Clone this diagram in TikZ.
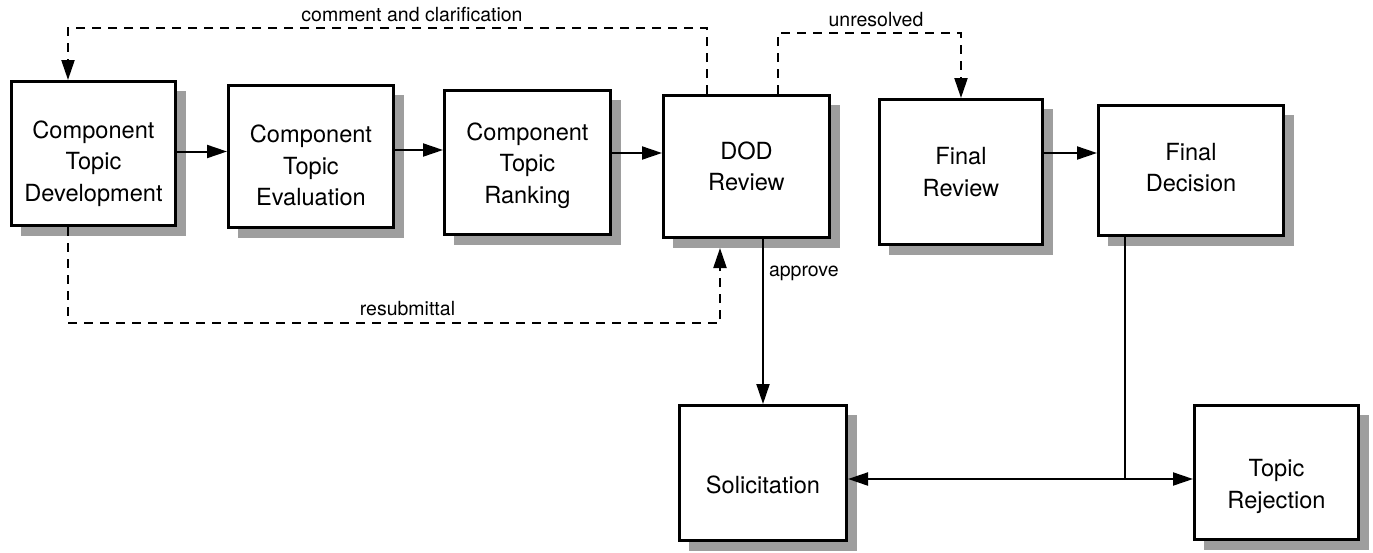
\documentclass[tikz,border=0pt]{standalone}
\usepackage{fontspec}
\setmainfont{TeX Gyre Heros}
\usetikzlibrary{arrows.meta,shadows,calc}
\begin{document}
\begin{tikzpicture}[x=1pt,y=-1pt,
  box/.style={draw, line width=2.6pt, fill=white, inner sep=0pt,
    drop shadow={shadow xshift=10pt, shadow yshift=-10pt, fill=black!38, draw=none, opacity=1}},
  txt/.style={align=center, inner sep=0pt, font=\fontsize{23.6}{31.5}\selectfont},
  lbl/.style={inner sep=0pt, font=\fontsize{19.5}{23}\selectfont},
  tip/.tip={Triangle[length=20pt,width=13pt]},
  conn/.style={line width=2pt, -tip},
  dashconn/.style={line width=2.2pt, -tip, dash pattern=on 9pt off 7pt},
  line/.style={line width=2pt}]
\useasboundingbox (0,0) rectangle (1373,552);

% boxes
\node[box, minimum width=164.4pt, minimum height=144.4pt,
  label={[txt,yshift=-10pt]center:Component\\Topic\\Development}] (ctd) at (93.5,153.5) {};
\node[box, minimum width=165.4pt, minimum height=142.4pt,
  label={[txt,yshift=-9pt]center:Component\\Topic\\Evaluation}] (cte) at (311,156.5) {};
\node[box, minimum width=166.4pt, minimum height=144.4pt,
  label={[txt,yshift=-3pt]center:Component\\Topic\\Ranking}] (ctr) at (527.5,162.5) {};
\node[box, minimum width=166.4pt, minimum height=142.4pt,
  label={[txt]center:DOD\\Review}] (dod) at (746.5,166.5) {};
\node[box, minimum width=163.4pt, minimum height=145.4pt,
  label={[txt]center:Final\\Review}] (fr) at (961,172) {};
\node[box, minimum width=185.4pt, minimum height=130.4pt,
  label={[txt,yshift=3pt]center:Final\\Decision}] (fd) at (1191,170.5) {};
\node[box, minimum width=167.4pt, minimum height=135.4pt,
  label={[txt,yshift=-12pt]center:Solicitation}] (sol) at (763,473) {};
\node[box, minimum width=164.4pt, minimum height=134.4pt,
  label={[txt,yshift=-14pt]center:Topic\\Rejection}] (rej) at (1276.5,472.5) {};

% horizontal flow
\coordinate (a1) at ($(ctd.east)+(0,-2)$);
\draw[conn] (a1) -- (a1 -| cte.west);
\coordinate (a2) at ($(cte.east)+(0,-6.5)$);
\draw[conn] (a2) -- (a2 -| ctr.west);
\coordinate (a3) at ($(ctr.east)+(0,-9.5)$);
\draw[conn] (a3) -- (a3 -| dod.west);
\coordinate (a4) at ($(fr.east)+(0,-19)$);
\draw[conn] (a4) -- (a4 -| fd.west);

% comment and clarification
\coordinate (c1) at ($(dod.north west)+(45,0)$);
\coordinate (c2) at ($(ctd.north west)+(58,0)$);
\draw[dashconn] (c1) -- ++(0,-66) -| (c2);
\node[lbl, anchor=base] (lcc) at (412,21) {comment and clarification};

% unresolved
\coordinate (u1) at ($(dod.north west)+(116,0)$);
\draw[dashconn] (u1) -- ++(0,-61) -| (fr.north);
\node[lbl, anchor=base] (lun) at (876,26) {unresolved};

% resubmittal
\coordinate (r1) at ($(ctd.south west)+(58,0)$);
\coordinate (r2) at ($(dod.south west)+(58,9)$);
\draw[dashconn] (r1) -- ++(0,96) -| (r2);
\node[lbl, anchor=base] (lrs) at (407.5,315) {resubmittal};

% approve
\draw[conn] (sol.north |- dod.south) -- node[lbl, anchor=base west, xshift=5pt, pos=0.23] (lap) {approve} (sol.north);

% final decision split
\coordinate (j) at ($(fd.south west)+(28,242)$);
\draw[line] (j |- fd.south) -- (j);
\draw[line, tip-tip] (j -| sol.east) -- (j -| rej.west);
\end{tikzpicture}
\end{document}
